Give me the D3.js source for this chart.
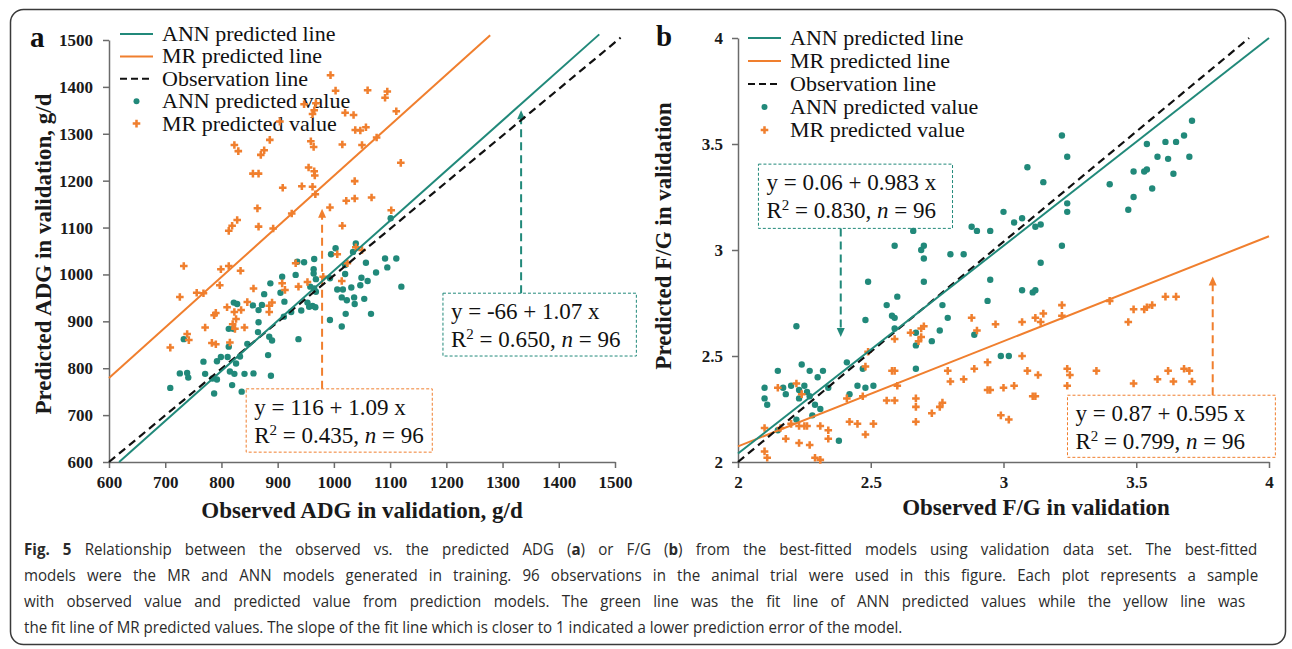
<!DOCTYPE html>
<html>
<head>
<meta charset="utf-8">
<script src="https://cdn.jsdelivr.net/npm/d3@7"></script>
<style>
  html, body { margin: 0; padding: 0; background: #fff; }
  svg { display: block; }
</style>
</head>
<body>
<div id="chart"></div>
<script>
(function () {
  // ================================================
  // 1. DATA
  // ================================================
  const adgTicks = [600, 700, 800, 900, 1000, 1100, 1200, 1300, 1400, 1500];
  const fgTicks = [2, 2.5, 3, 3.5, 4];

  const legendLabels = ["ANN predicted line", "MR predicted line", "Observation line",
    "ANN predicted value", "MR predicted value"];

  // panel a: observed vs predicted ADG (g/d)
  const adgAnnPoints = [
    [709,758],[733,862],[726,789],[739,790],[741,780],[768,814],[771,788],[784,778],[787,746],[792,815],
    [792,776],[799,824],[811,824],[813,846],[815,793],[826,810],[823,788],[819,764],[813,884],[821,884],
    [822,940],[828,937],[833,825],[836,750],[841,788],[846,852],[857,789],[856,934],[866,924],[872,935],
    [876,958],[866,898],[865,877],[885,867],[890,859],[883,828],[888,784],[887,981],[908,995],[905,961],
    [912,942],[924,920],[911,910],[932,999],[935,1027],[947,1026],[965,1033],[964,1011],[964,1002],[968,990],
    [942,923],[937,862],[953,940],[958,974],[956,931],[962,933],[967,930],[965,970],[968,963],[993,903],
    [1014,889],[995,1043],[1003,1056],[993,992],[1020,1001],[1006,968],[1016,968],[1014,951],[1023,945],[1031,972],
    [1036,951],[1037,937],[1054,948],[1021,916],[1066,916],[1047,977],[1060,986],[1049,993],[1057,1025],[1075,1004],
    [1091,1034],[1095,1015],[1111,1034],[1120,974],[1034,1048],[1039,1066],[1020,1020],[1101,1120]
  ];
  const adgMrPoints = [
    [994,1425],[1003,1392],[1060,1393],[1095,1390],[1091,1377],[947,1363],[968,1365],[965,1350],[962,1342],[1020,1345],
    [1035,1340],[1111,1348],[904,1326],[1038,1308],[1047,1307],[1057,1314],[1076,1292],[1119,1238],[823,1276],[830,1263],
    [886,1287],[876,1265],[870,1255],[959,1284],[964,1272],[1015,1277],[1050,1276],[856,1215],[866,1215],[955,1228],
    [965,1220],[966,1211],[909,1185],[943,1188],[962,1187],[967,1171],[1037,1199],[993,1143],[1022,1157],[1037,1162],
    [1067,1164],[864,1141],[925,1130],[828,1116],[819,1104],[813,1093],[866,1102],[892,1098],[1015,1104],[1102,1137],
    [733,1018],[726,952],[756,961],[768,960],[799,1011],[813,1018],[834,1008],[797,977],[709,844],[739,873],
    [742,860],[771,887],[787,913],[790,918],[783,854],[790,851],[815,855],[810,930],[823,920],[826,905],
    [820,894],[824,884],[835,924],[841,887],[846,941],[857,970],[885,933],[890,940],[885,920],[908,981],
    [913,967],[937,974],[953,984],[932,1024],[981,995],[1006,1043],[1014,986],[1024,1024],[1039,1058],[1050,1052]
  ];
  const adgAnnLine = [[618, 600], [1472, 1512]];
  const adgMrLine = [[600, 779], [1278, 1510]];
  const adgObsLine = [[600, 600], [1510, 1505]];
  const adgAnnEq = ["y = -66 + 1.07 x", "0.650", "96"];
  const adgMrEq = ["y = 116 + 1.09 x", "0.435", "96"];

  // panel b: observed vs predicted F/G
  const fgAnnPoints = [
    [2.22,2.64],[2.15,2.43],[2.10,2.35],[2.10,2.30],[2.11,2.27],[2.17,2.35],[2.18,2.32],[2.20,2.36],[2.23,2.34],[2.25,2.36],
    [2.23,2.30],[2.24,2.46],[2.27,2.43],[2.32,2.43],[2.30,2.40],[2.26,2.33],[2.27,2.31],[2.29,2.27],[2.31,2.25],[2.28,2.22],
    [2.22,2.20],[2.15,2.15],[2.34,2.35],[2.38,2.10],[2.41,2.47],[2.42,2.32],[2.45,2.36],[2.47,2.44],[2.48,2.35],[2.51,2.36],
    [2.48,2.67],[2.49,2.85],[2.56,2.74],[2.60,2.78],[2.58,2.69],[2.59,2.68],[2.59,2.63],[2.67,2.44],[2.67,2.55],[2.67,2.61],
    [2.73,2.57],[2.70,2.85],[2.77,2.74],[2.76,2.62],[2.79,2.68],[2.89,2.60],[2.94,2.76],[2.99,2.50],[2.95,2.86],
    [3.22,3.02],[3.14,2.94],[3.07,2.81],[3.11,2.80],[3.12,2.81],[3.02,2.50],[2.80,2.98],[2.85,2.98],[2.70,3.02],[2.69,3.00],
    [2.70,2.96],[2.59,3.02],[2.66,3.09],[3.22,3.54],[3.24,3.44],[3.24,3.22],[3.24,3.18],[3.09,3.39],[3.15,3.32],[3.07,3.15],
    [3.04,3.13],[3.00,3.18],[3.12,3.11],[3.14,3.12],[2.88,3.11],[2.90,3.09],[2.95,3.09],[3.40,3.31],[3.47,3.19],[3.49,3.25],
    [3.49,3.37],[3.53,3.37],[3.54,3.38],[3.54,3.50],[3.56,3.29],[3.58,3.44],[3.61,3.51],[3.62,3.43],[3.64,3.36],[3.65,3.51],
    [3.68,3.54],[3.70,3.44],[3.71,3.61]
  ];
  const fgMrPoints = [
    [2.10,2.16],[2.10,2.05],[2.11,2.02],[2.15,2.35],[2.16,2.16],[2.18,2.11],[2.20,2.18],[2.22,2.37],[2.23,2.17],[2.23,2.09],
    [2.24,2.32],[2.25,2.17],[2.26,2.17],[2.27,2.08],[2.29,2.02],[2.31,2.01],[2.31,2.17],[2.34,2.15],[2.34,2.11],[2.41,2.30],
    [2.42,2.19],[2.45,2.18],[2.47,2.31],[2.48,2.13],[2.51,2.18],[2.48,2.45],[2.49,2.52],[2.56,2.29],[2.58,2.43],[2.59,2.43],
    [2.59,2.29],[2.60,2.36],[2.59,2.58],[2.65,2.61],[2.69,2.59],[2.68,2.57],[2.69,2.63],[2.70,2.64],[2.67,2.30],[2.67,2.26],
    [2.67,2.19],[2.73,2.23],[2.76,2.26],[2.77,2.28],[2.79,2.43],[2.80,2.38],[2.85,2.39],[2.88,2.68],[2.90,2.62],[2.89,2.44],
    [2.94,2.47],[2.95,2.34],[2.94,2.34],[2.97,2.65],[2.99,2.22],[3.00,2.35],
    [3.40,2.76],[3.49,2.72],[3.47,2.66],[3.53,2.72],[3.54,2.73],[3.56,2.74],[3.61,2.78],[3.65,2.78],[3.22,2.74],[3.22,2.69],
    [3.15,2.70],[3.14,2.66],[3.12,2.68],[3.07,2.66],[3.13,2.41],[3.09,2.43],[3.07,2.50],[3.04,2.36],[3.02,2.20],[3.11,2.31],
    [3.12,2.31],[3.24,2.44],[3.25,2.41],[3.24,2.36],[3.35,2.43],[3.49,2.37],[3.58,2.39],[3.62,2.43],[3.64,2.38],[3.68,2.44],
    [3.70,2.43],[3.71,2.38]
  ];
  const fgAnnLine = [[2, 2.04], [4, 4.0]];
  const fgMrLine = [[2, 2.074], [4, 3.065]];
  const fgObsLine = [[2, 2], [3.925, 4.0]];
  const fgAnnEq = ["y = 0.06 + 0.983 x", "0.830", "96"];
  const fgMrEq = ["y = 0.87 + 0.595 x", "0.799", "96"];

  const captionLines = [
    [["Fig. 5", true], [" Relationship between the observed vs. the predicted ADG (", false], ["a", true],
     [") or F/G (", false], ["b", true], [") from the best-fitted models using validation data set. The best-fitted", false]],
    [["models were the MR and ANN models generated in training. 96 observations in the animal trial were used in this figure. Each plot represents a sample", false]],
    [["with observed value and predicted value from prediction models. The green line was the fit line of ANN predicted values while the yellow line was", false]],
    [["the fit line of MR predicted values. The slope of the fit line which is closer to 1 indicated a lower prediction error of the model.", false]]
  ];

  // ================================================
  // 2. LAYOUT & STYLE
  // ================================================
  const W = 1292, H = 649;
  const teal = "#21897a";
  const orange = "#f07f2e";
  const axisGrey = "#6b6b6b";
  const serif = "'Liberation Serif', 'Times New Roman', serif";

  const svg = d3.select("#chart").append("svg")
    .attr("width", W)
    .attr("height", H)
    .style("background", "#fff");

  // outer frame
  svg.append("rect")
    .attr("x", 10.5).attr("y", 9.5)
    .attr("width", 1275).attr("height", 635)
    .attr("rx", 13)
    .attr("fill", "none")
    .attr("stroke", "#3a3a3a")
    .attr("stroke-width", 1.5);

  const crossSym = d3.symbol().type(d3.symbolCross).size(32);

  // ================================================
  // 3. PANEL DRAWING
  // ================================================
  function drawPanel(p) {
    const x = d3.scaleLinear().domain(p.domain).range(p.xRange);
    const y = d3.scaleLinear().domain(p.domain).range(p.yRange);
    const g = svg.append("g");

    // axes
    const xAxis = g.append("g")
      .attr("transform", `translate(0,${p.yRange[0]})`)
      .call(d3.axisBottom(x).tickValues(p.ticks).tickFormat(d3.format("~g"))
        .tickSize(6).tickSizeOuter(0).tickPadding(8));
    const yAxis = g.append("g")
      .attr("transform", `translate(${p.xRange[0]},0)`)
      .call(d3.axisLeft(y).tickValues(p.ticks).tickFormat(d3.format("~g"))
        .tickSize(6).tickSizeOuter(0).tickPadding(p.yPad));
    [xAxis, yAxis].forEach(a => {
      a.attr("font-family", serif).attr("font-size", 17).attr("font-weight", "bold");
      a.select(".domain").attr("stroke", axisGrey).attr("stroke-width", 1.5);
      a.selectAll(".tick line").attr("stroke", axisGrey).attr("stroke-width", 1.5);
      a.selectAll(".tick text").attr("fill", "#1a1a1a");
    });

    // titles
    g.append("text")
      .attr("x", p.xTitle[0]).attr("y", p.xTitle[1])
      .attr("text-anchor", "middle")
      .style("font-family", serif).style("font-size", "23px").style("font-weight", "bold")
      .attr("fill", "#1a1a1a")
      .text(p.xLabel);
    g.append("text")
      .attr("transform", `translate(${p.yTitle[0]},${p.yTitle[1]}) rotate(-90)`)
      .attr("text-anchor", "middle")
      .style("font-family", serif).style("font-size", "23px").style("font-weight", "bold")
      .attr("fill", "#1a1a1a")
      .text(p.yLabel);
    g.append("text")
      .attr("x", p.letter[0]).attr("y", p.letter[1])
      .style("font-family", serif).style("font-size", "29px").style("font-weight", "bold")
      .attr("fill", "#111")
      .text(p.letterText);

    // legend
    const leg = g.append("g").attr("transform", `translate(${p.legend[0]},${p.legend[1]})`);
    const kinds = [
      { stroke: teal, dash: null },
      { stroke: orange, dash: null },
      { stroke: "#111", dash: "7,4" },
      { dot: teal },
      { cross: orange }
    ];
    legendLabels.forEach((label, i) => {
      const row = leg.append("g").attr("transform", `translate(0,${i * p.legendStep})`);
      const k = kinds[i];
      if (k.stroke) {
        row.append("line")
          .attr("x1", 0).attr("x2", p.legendLine).attr("y1", 0).attr("y2", 0)
          .attr("stroke", k.stroke).attr("stroke-width", 2)
          .attr("stroke-dasharray", k.dash);
      } else if (k.dot) {
        row.append("circle").attr("cx", p.legendLine / 2).attr("cy", 0).attr("r", 3).attr("fill", k.dot);
      } else {
        row.append("path").attr("d", crossSym)
          .attr("transform", `translate(${p.legendLine / 2},0)`).attr("fill", k.cross);
      }
      row.append("text")
        .attr("x", p.legendLine + 9).attr("y", 7)
        .style("font-family", serif).style("font-size", "22px")
        .attr("fill", "#111")
        .text(label);
    });

    // equation boxes
    p.boxes.forEach(b => {
      const bx = x(b.x[0]), by = y(b.y[0]);
      const bw = x(b.x[1]) - bx, bh = y(b.y[1]) - by;
      g.append("rect")
        .attr("x", bx).attr("y", by).attr("width", bw).attr("height", bh)
        .attr("fill", "#fff").attr("stroke", b.color)
        .attr("stroke-width", 1).attr("stroke-dasharray", "3,2");
      g.append("text")
        .attr("x", bx + 8).attr("y", by + 26)
        .style("font-family", serif).style("font-size", "23px").attr("fill", "#111")
        .text(b.eq[0]);
      const t2 = g.append("text")
        .attr("x", bx + 8).attr("y", by + 54)
        .style("font-family", serif).style("font-size", "23px").attr("fill", "#111");
      t2.append("tspan").text("R");
      t2.append("tspan").attr("dy", -8).style("font-size", "15px").text("2");
      t2.append("tspan").attr("dy", 8).text(" = " + b.eq[1] + ", ");
      t2.append("tspan").style("font-style", "italic").text("n");
      t2.append("tspan").text(" = " + b.eq[2]);
    });

    // dashed arrows
    p.arrows.forEach(a => {
      const ax = x(a.x), y0 = y(a.from), yTip = y(a.to);
      const dir = yTip < y0 ? 1 : -1; // 1 = pointing up
      g.append("line")
        .attr("x1", ax).attr("x2", ax)
        .attr("y1", y0).attr("y2", yTip + dir * 8)
        .attr("stroke", a.color).attr("stroke-width", 2)
        .attr("stroke-dasharray", "8,5");
      g.append("path")
        .attr("d", `M${ax},${yTip} L${ax - 4},${yTip + dir * 9} L${ax + 4},${yTip + dir * 9} Z`)
        .attr("fill", a.color);
    });

    // points
    g.append("g").selectAll("circle")
      .data(p.ann)
      .enter()
      .append("circle")
      .attr("cx", d => x(d[0]))
      .attr("cy", d => y(d[1]))
      .attr("r", 3.2)
      .attr("fill", teal);
    g.append("g").selectAll("path")
      .data(p.mr)
      .enter()
      .append("path")
      .attr("d", crossSym)
      .attr("transform", d => `translate(${x(d[0])},${y(d[1])})`)
      .attr("fill", orange);

    // fit lines
    const line = d3.line().x(d => x(d[0])).y(d => y(d[1]));
    g.append("path").attr("d", line(p.mrLine)).attr("stroke", orange).attr("stroke-width", 2).attr("fill", "none");
    g.append("path").attr("d", line(p.obsLine)).attr("stroke", "#111").attr("stroke-width", 2.2)
      .attr("stroke-dasharray", "8,5").attr("fill", "none");
    g.append("path").attr("d", line(p.annLine)).attr("stroke", teal).attr("stroke-width", 2).attr("fill", "none");
  }

  drawPanel({
    domain: [600, 1500], xRange: [109, 615], yRange: [462, 40], ticks: adgTicks, yPad: 10,
    xLabel: "Observed ADG in validation, g/d", xTitle: [362, 518],
    yLabel: "Predicted ADG in validation, g/d", yTitle: [51, 254],
    letterText: "a", letter: [30, 47],
    legend: [120, 34], legendStep: 22.4, legendLine: 33,
    ann: adgAnnPoints, mr: adgMrPoints,
    annLine: adgAnnLine, mrLine: adgMrLine, obsLine: adgObsLine,
    boxes: [
      { x: [1194, 1538], y: [960, 826], color: teal, eq: adgAnnEq },
      { x: [844, 1175], y: [756, 621], color: orange, eq: adgMrEq }
    ],
    arrows: [
      { x: 1333, from: 960, to: 1350, color: teal },
      { x: 979, from: 756, to: 1140, color: orange }
    ]
  });

  drawPanel({
    domain: [2, 4], xRange: [738, 1269], yRange: [462, 38], ticks: fgTicks, yPad: 9,
    xLabel: "Observed F/G in validation", xTitle: [1036, 515],
    yLabel: "Predicted F/G in validation", yTitle: [671, 236],
    letterText: "b", letter: [656, 46],
    legend: [748, 38], legendStep: 23, legendLine: 33,
    ann: fgAnnPoints, mr: fgMrPoints,
    annLine: fgAnnLine, mrLine: fgMrLine, obsLine: fgObsLine,
    boxes: [
      { x: [2.077, 2.808], y: [3.405, 3.102], color: teal, eq: fgAnnEq },
      { x: [3.241, 4.024], y: [2.315, 2.022], color: orange, eq: fgMrEq }
    ],
    arrows: [
      { x: 2.387, from: 3.102, to: 2.59, color: teal },
      { x: 3.788, from: 2.315, to: 2.875, color: orange }
    ]
  });

  // ================================================
  // 4. CAPTION (justified, slightly condensed)
  // ================================================
  const captionWidths = [1234, 1235, 1222, 879];
  const capRows = captionLines.map(segs => {
    const t = svg.append("text")
      .attr("x", 0).attr("y", 0)
      .style("font-family", "'Open Sans', 'Noto Sans', sans-serif")
      .style("font-size", "15.5px")
      .attr("fill", "#2b2b2b");
    segs.forEach(s => {
      t.append("tspan").style("font-weight", s[1] ? "bold" : "normal").text(s[0]);
    });
    return t;
  });
  const natural = capRows.map(t => t.node().getComputedTextLength());
  const sx = captionWidths[3] / natural[3];
  capRows.forEach((t, i) => {
    if (i < 3) {
      const spaces = captionLines[i].map(s => s[0]).join("").split(" ").length - 1;
      t.style("word-spacing", ((captionWidths[i] / sx - natural[i]) / spaces) + "px");
    }
    t.attr("transform", `translate(24,${555 + i * 26}) scale(${sx},1)`);
  });
})();
</script>
</body>
</html>
